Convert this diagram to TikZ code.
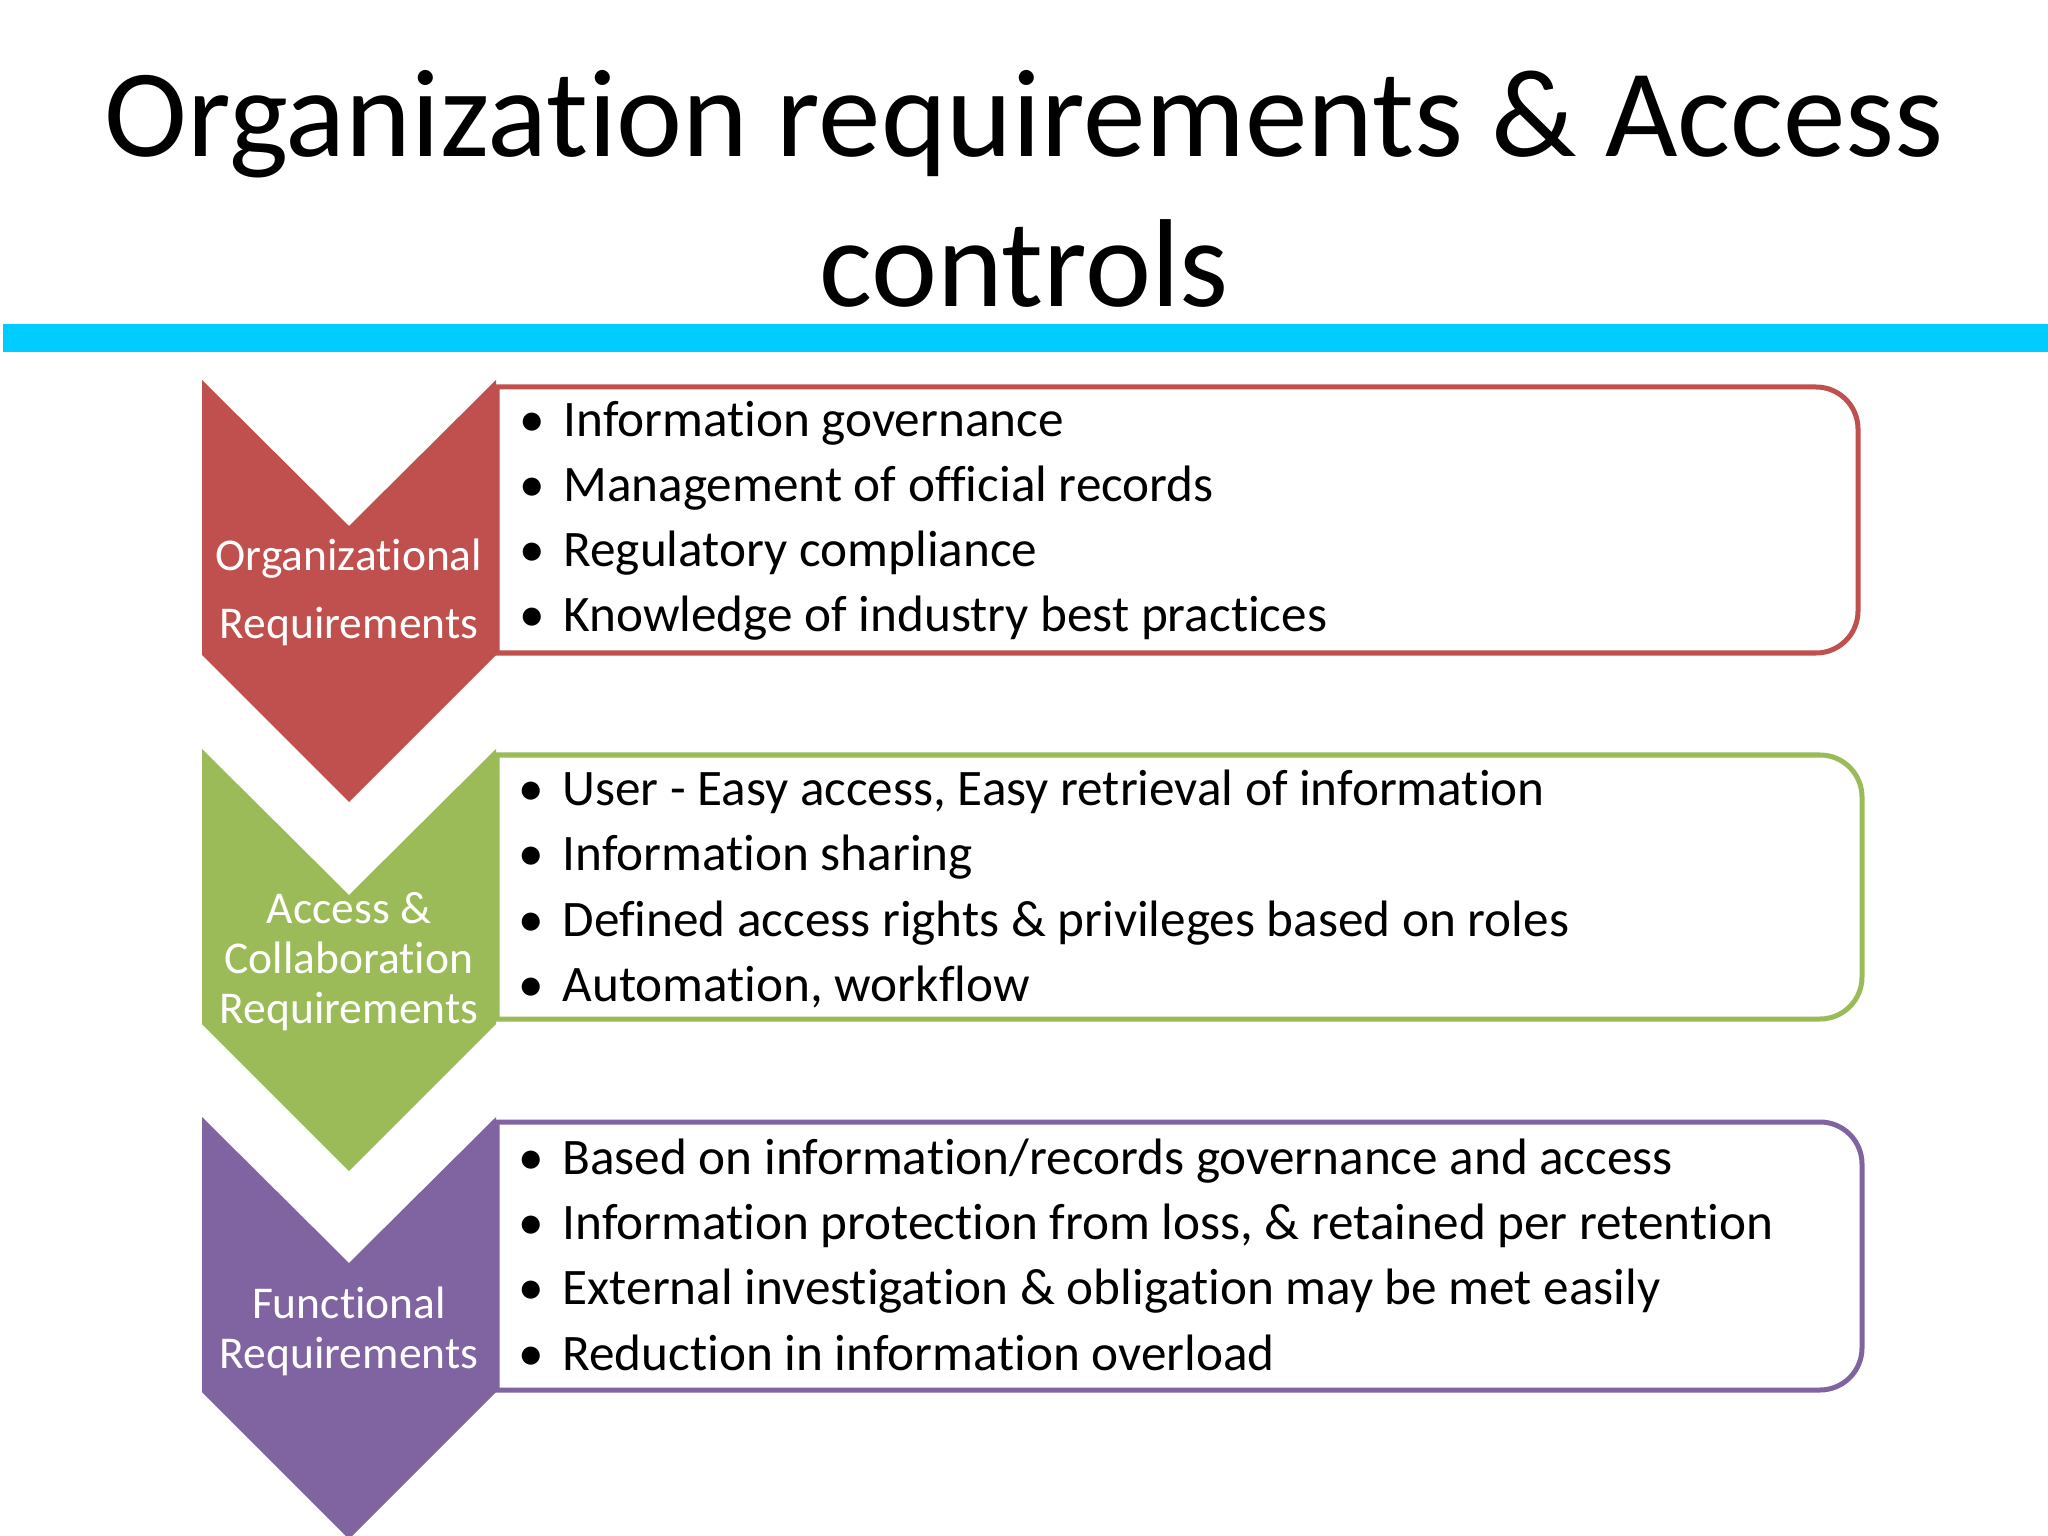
\documentclass[tikz,border=0pt]{standalone}
\usepackage{fontspec}
\setmainfont{Carlito}[Ligatures=NoCommon]
\usepackage{tikz}
\usetikzlibrary{calc}
\definecolor{orgred}{HTML}{C0504D}
\definecolor{accgreen}{HTML}{9BBB59}
\definecolor{funpurple}{HTML}{8064A2}
\definecolor{barblue}{HTML}{00CCFF}
\newcommand{\bl}{\llap{\textbullet\hspace{6.5pt}}}

\begin{document}
\begin{tikzpicture}[x=0.3515625pt, y=-0.3515625pt,
                    titletext/.style={anchor=base, inner sep=0pt, font=\fontsize{44}{52}\selectfont},
                    chevlabel/.style={anchor=base, inner sep=0pt, text=white, font=\fontsize{16}{19}\selectfont},
                    itemtext/.style={anchor=base west, inner sep=0pt, font=\fontsize{18}{21}\selectfont},
                    listbox/.style={line width=1.76pt, fill=white}]
             \useasboundingbox (0,0) rectangle (2048,1536);
             \fill[white] (0,0) rectangle (2048,1536);
             \node[titletext] (t1) at (1024,157) {Organization requirements \& Access};
             \node[titletext] (t2) at (1024,307) {controls};
             \fill[barblue] (3,324) rectangle (2048,352);

             \draw[listbox, draw=orgred] (497,653) -- (497,387) -- (1816,387) arc[start angle=-90, end angle=0, radius=42] -- (1858,611) arc[start angle=0, end angle=90, radius=42] -- cycle;
             \draw[listbox, draw=accgreen] (497,1019) -- (497,755) -- (1820,755) arc[start angle=-90, end angle=0, radius=42] -- (1862,977) arc[start angle=0, end angle=90, radius=42] -- cycle;
             \draw[listbox, draw=funpurple] (497,1390) -- (497,1122) -- (1820,1122) arc[start angle=-90, end angle=0, radius=42] -- (1862,1348) arc[start angle=0, end angle=90, radius=42] -- cycle;

             \fill[orgred] (202,380) -- (349,526) -- (496,380) -- (496,655) -- (349,802) -- (202,655) -- cycle;
             \fill[accgreen] (202,749) -- (349,895) -- (496,749) -- (496,1024) -- (349,1171) -- (202,1024) -- cycle;
             \fill[funpurple] (202,1117) -- (349,1263) -- (496,1117) -- (496,1392) -- (349,1539) -- (202,1392) -- cycle;

             \node[chevlabel] (orglab1) at (349,570) {Organizational};
             \node[chevlabel] (orglab2) at (349,638) {Requirements};
             \node[chevlabel] (acclab1) at (349,923) {Access \&};
             \node[chevlabel] (acclab2) at (349,973) {Collaboration};
             \node[chevlabel] (acclab3) at (349,1023) {Requirements};
             \node[chevlabel] (funlab1) at (349,1318) {Functional};
             \node[chevlabel] (funlab2) at (349,1368) {Requirements};

             \node[itemtext] (org1) at (563,437) {\bl Information governance};
             \node[itemtext] (org2) at (563,502) {\bl Management of official records};
             \node[itemtext] (org3) at (563,567) {\bl Regulatory compliance};
             \node[itemtext] (org4) at (563,632) {\bl Knowledge of industry best practices};

             \node[itemtext] (acc1) at (562,805) {\bl User - Easy access, Easy retrieval of information};
             \node[itemtext] (acc2) at (562,870) {\bl Information sharing};
             \node[itemtext] (acc3) at (562,936) {\bl Defined access rights \& privileges based on roles};
             \node[itemtext] (acc4) at (562,1001) {\bl Automation, workflow};

             \node[itemtext] (fun1) at (562,1174) {\bl Based on information/records governance and access};
             \node[itemtext] (fun2) at (562,1239) {\bl Information protection from loss, \& retained per retention};
             \node[itemtext] (fun3) at (562,1304) {\bl External investigation \& obligation may be met easily};
             \node[itemtext] (fun4) at (562,1370) {\bl Reduction in information overload};
         \end{tikzpicture}
\end{document}
